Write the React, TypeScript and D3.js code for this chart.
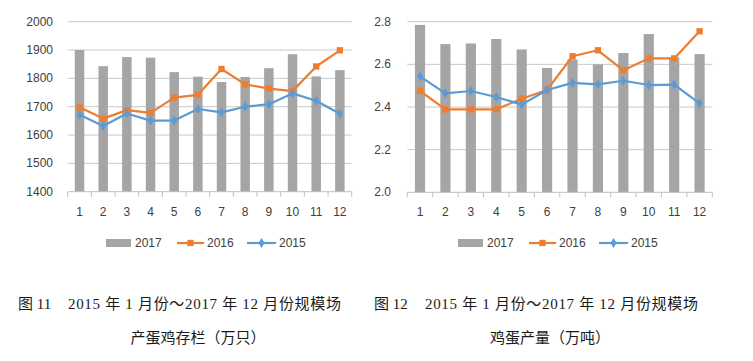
import React from "react";
import { scaleBand, scaleLinear, line, symbol, symbolSquare, symbolDiamond, format } from "d3";

const months = ["1", "2", "3", "4", "5", "6", "7", "8", "9", "10", "11", "12"];
const seriesNames = ["2017", "2016", "2015"];

// 产蛋鸡存栏（万只）
const stock2017 = [1900, 1843, 1875, 1873, 1822, 1806, 1787, 1805, 1836, 1885, 1807, 1829];
const stock2016 = [1698, 1658, 1688, 1678, 1732, 1742, 1833, 1779, 1764, 1755, 1842, 1899];
const stock2015 = [1672, 1632, 1676, 1651, 1651, 1692, 1680, 1700, 1709, 1747, 1721, 1675];
const stockTicks = [1400, 1500, 1600, 1700, 1800, 1900, 2000];

// 鸡蛋产量（万吨）
const egg2017 = [2.785, 2.695, 2.698, 2.719, 2.67, 2.583, 2.623, 2.6, 2.653, 2.742, 2.633, 2.648];
const egg2016 = [2.475, 2.389, 2.389, 2.389, 2.439, 2.48, 2.638, 2.666, 2.572, 2.628, 2.628, 2.755];
const egg2015 = [2.544, 2.464, 2.475, 2.447, 2.411, 2.48, 2.513, 2.506, 2.523, 2.503, 2.505, 2.417];
const eggTicks = [2.0, 2.2, 2.4, 2.6, 2.8];

const captionTitle = "2015 年 1 月份～2017 年 12 月份规模场";

const barColor = "#a5a5a5";
const orange = "#ed7d31";
const blue = "#5b9bd5";
const gridColor = "#c9c9c9";
const axisFont = "'Liberation Sans', Arial, sans-serif";
const captionFont = "'Liberation Serif', 'Noto Sans CJK SC', serif";

const squarePath = symbol().type(symbolSquare).size(40)();
const diamondPath = symbol().type(symbolDiamond).size(30)();

type ChartProps = {
  left: number;
  right: number;
  top: number;
  bottom: number;
  labelX: number;
  bars: number[];
  lineA: number[];
  lineB: number[];
  ticks: number[];
  fmt: (n: number) => string;
  legendX: number;
  figNo: string;
  figX: number;
  titleX: number;
  titleW: number;
  subtitle: string;
  subCenter: number;
};

const Chart = (p: ChartProps) => {
  const x = scaleBand().domain(months).range([p.left, p.right]).padding(0);
  const y = scaleLinear()
    .domain([p.ticks[0], p.ticks[p.ticks.length - 1]])
    .range([p.bottom, p.top]);
  const bw = x.bandwidth();
  const cx = (i: number) => (x(months[i]) as number) + bw / 2;
  const path = line<number>()
    .x((_, i) => cx(i))
    .y((d) => y(d));
  const boundaries = months.map((m) => x(m) as number).concat([p.right]);
  const lg = p.legendX;
  const legendY = 243;

  return (
    <g>
      {p.ticks.slice(1).map((t) => (
        <line key={t} x1={p.left} x2={p.right} y1={y(t)} y2={y(t)} stroke={gridColor} strokeWidth={1} />
      ))}
      {p.ticks.map((t) => (
        <text key={"l" + t} x={p.labelX} y={y(t)} textAnchor="end" dominantBaseline="central"
          fontFamily={axisFont} fontSize={12} fill="#404040">
          {p.fmt(t)}
        </text>
      ))}
      {p.bars.map((v, i) => (
        <rect key={"b" + i} x={cx(i) - bw * 0.2} width={bw * 0.4} y={y(v)} height={p.bottom - y(v)} fill={barColor} />
      ))}
      <line x1={p.left} x2={p.right} y1={p.bottom} y2={p.bottom} stroke="#bfbfbf" />
      {boundaries.map((b, i) => (
        <line key={"t" + i} x1={b} x2={b} y1={p.bottom} y2={p.bottom + 5} stroke="#bfbfbf" />
      ))}
      {months.map((m, i) => (
        <text key={"m" + m} x={cx(i)} y={212} textAnchor="middle" dominantBaseline="central"
          fontFamily={axisFont} fontSize={12} fill="#404040">
          {m}
        </text>
      ))}
      <path d={path(p.lineA) as string} fill="none" stroke={orange} strokeWidth={2.2} strokeLinejoin="round" />
      {p.lineA.map((v, i) => (
        <path key={"sa" + i} d={squarePath as string} transform={`translate(${cx(i)},${y(v)})`} fill={orange} />
      ))}
      <path d={path(p.lineB) as string} fill="none" stroke={blue} strokeWidth={2.2} strokeLinejoin="round" />
      {p.lineB.map((v, i) => (
        <path key={"sb" + i} d={diamondPath as string} transform={`translate(${cx(i)},${y(v)})`} fill={blue} />
      ))}

      {/* legend */}
      <rect x={lg} y={legendY - 4} width={25} height={8} fill={barColor} />
      <text x={lg + 29} y={legendY} dominantBaseline="central" fontFamily={axisFont} fontSize={12} fill="#404040">
        {seriesNames[0]}
      </text>
      <line x1={lg + 71} x2={lg + 98} y1={legendY} y2={legendY} stroke={orange} strokeWidth={2.2} />
      <path d={squarePath as string} transform={`translate(${lg + 84.5},${legendY})`} fill={orange} />
      <text x={lg + 101} y={legendY} dominantBaseline="central" fontFamily={axisFont} fontSize={12} fill="#404040">
        {seriesNames[1]}
      </text>
      <line x1={lg + 141} x2={lg + 170} y1={legendY} y2={legendY} stroke={blue} strokeWidth={2.2} />
      <path d={diamondPath as string} transform={`translate(${lg + 155.5},${legendY})`} fill={blue} />
      <text x={lg + 173} y={legendY} dominantBaseline="central" fontFamily={axisFont} fontSize={12} fill="#404040">
        {seriesNames[2]}
      </text>

      {/* caption */}
      <text x={p.figX} y={304} dominantBaseline="central" fontFamily={captionFont} fontSize={15} fill="#1a1a1a">
        {p.figNo}
      </text>
      <text x={p.titleX} y={304} dominantBaseline="central" fontFamily={captionFont} fontSize={15} fill="#1a1a1a"
        textLength={p.titleW} lengthAdjust="spacing">
        {captionTitle}
      </text>
      <text x={p.subCenter} y={338} textAnchor="middle" dominantBaseline="central" fontFamily={captionFont}
        fontSize={15} fill="#1a1a1a">
        {p.subtitle}
      </text>
    </g>
  );
};

const App = () => {
  return (
    <svg width={753} height={361} style={{ position: "absolute", left: 0, top: 0, background: "#fff" }}>
      <rect width={753} height={361} fill="#fff" />
      <Chart left={67.7} right={351.7} top={21.7} bottom={191.7} labelX={53}
        bars={stock2017} lineA={stock2016} lineB={stock2015} ticks={stockTicks} fmt={format("d")}
        legendX={106} figNo="图 11" figX={18} titleX={68} titleW={273}
        subtitle="产蛋鸡存栏（万只）" subCenter={198} />
      <Chart left={407.3} right={712.3} top={21.7} bottom={192.3} labelX={391}
        bars={egg2017} lineA={egg2016} lineB={egg2015} ticks={eggTicks} fmt={format(".1f")}
        legendX={458} figNo="图 12" figX={374} titleX={425} titleW={273}
        subtitle="鸡蛋产量（万吨）" subCenter={550} />
    </svg>
  );
};

export default App;
